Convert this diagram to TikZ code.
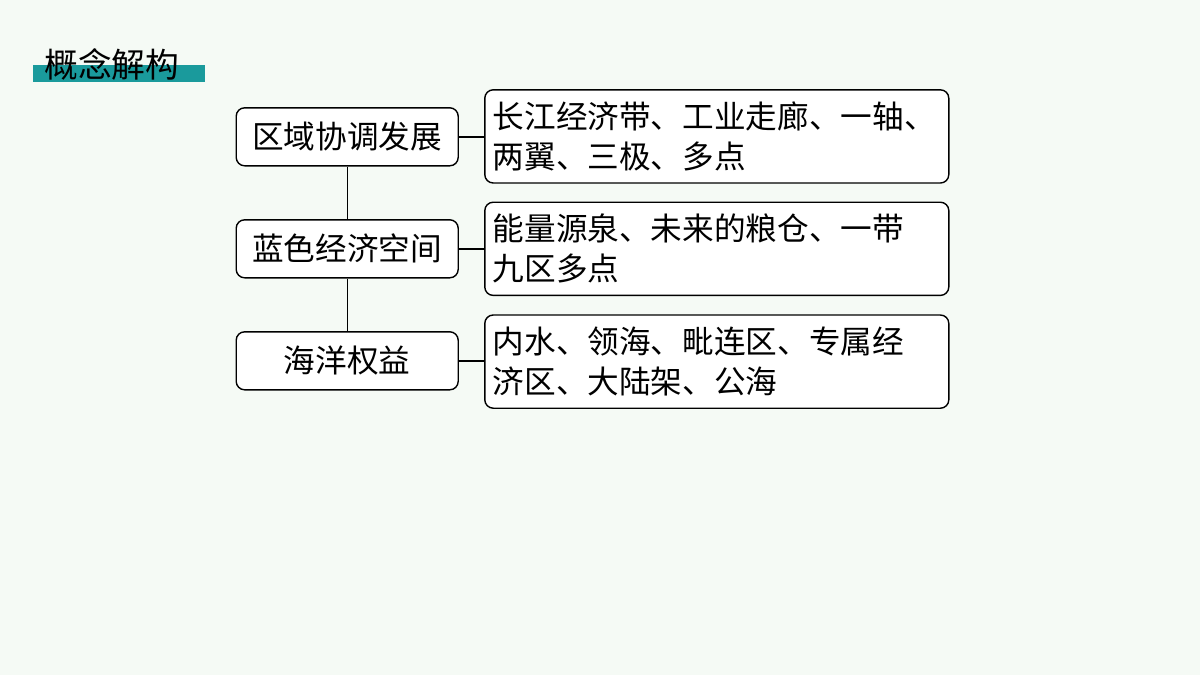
\documentclass[tikz,border=0pt]{standalone}
\usepackage{fontspec}
\newfontfamily\cjk{Noto Sans CJK SC}
\usetikzlibrary{positioning}
\definecolor{bgcol}{HTML}{F5FAF5}
\definecolor{barcol}{HTML}{1A9A9C}
\tikzset{
  leftbox/.style={draw, rounded corners=6pt, line width=1pt, fill=white, minimum width=5.55cm, minimum height=1.45cm, font=\cjk\fontsize{22.5}{26}\selectfont},
  rightbox/.style={draw, rounded corners=6pt, line width=1pt, fill=white, minimum width=11.5cm, minimum height=2.33cm, text width=11.2cm, inner xsep=0.2cm, align=left, font=\cjk\fontsize{22.5}{28.5}\selectfont},
  link/.style={line width=1pt}
}
\begin{document}
\begin{tikzpicture}
    \fill[bgcol] (0,0) rectangle (30,-16.875);
    \useasboundingbox (0,0) rectangle (30,-16.875);

    \fill[barcol] (0.82,-1.62) rectangle (5.12,-2.05);
    \node (title) [anchor=west, inner sep=0pt, font=\cjk\fontsize{24}{28}\selectfont] at (1.1,-1.6) {概念解构};

    \node (region) [leftbox] at (8.68,-3.42) {区域协调发展};
    \node (blue) [leftbox] at (8.68,-6.22) {蓝色经济空间};
    \node (rights) [leftbox] at (8.68,-9.02) {海洋权益};

    \node (region_r) [rightbox] at (17.92,-3.41) {长江经济带、工业走廊、一轴、\\两翼、三极、多点};
    \node (blue_r) [rightbox] at (17.92,-6.22) {能量源泉、未来的粮仓、一带\\九区多点};
    \node (rights_r) [rightbox] at (17.92,-9.04) {内水、领海、毗连区、专属经\\济区、大陆架、公海};

    \draw [link] (region) -- (blue);
    \draw [link] (blue) -- (rights);
    \draw [link] (region) -- (region.east -| region_r.west);
    \draw [link] (blue) -- (blue.east -| blue_r.west);
    \draw [link] (rights) -- (rights.east -| rights_r.west);
\end{tikzpicture}
\end{document}
